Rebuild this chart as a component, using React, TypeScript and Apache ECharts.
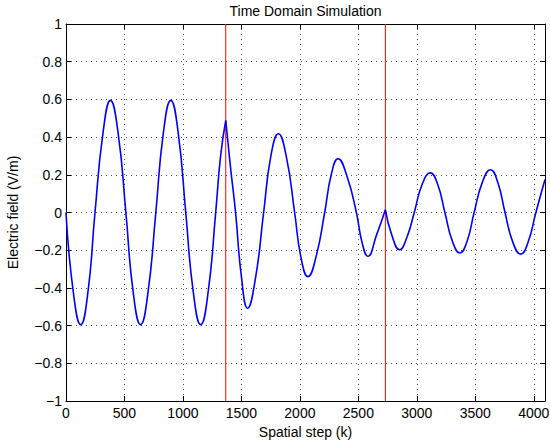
import React, { useEffect, useRef } from "react";
import * as echarts from "echarts";

// Field along the grid: [spatial step, field (V/m)]
const region1: [number, number][] = [
  [0, 0], [62, -0.42], [126, -0.595], [188, -0.42], [248, 0], [316, 0.42], [380, 0.595],
  [446, 0.42], [512, 0], [574, -0.42], [638, -0.595], [702, -0.42], [768, 0], [832, 0.42],
  [896, 0.595], [960, 0.42], [1024, 0], [1088, -0.42], [1152, -0.595], [1216, -0.42],
  [1280, 0], [1322, 0.3], [1366, 0.488],
];
const region2: [number, number][] = [
  [1366, 0.488], [1405, 0.25], [1450, 0], [1500, -0.34], [1553, -0.508], [1620, -0.35],
  [1690, 0], [1752, 0.3], [1816, 0.418], [1886, 0.29], [1955, 0], [2010, -0.24],
  [2069, -0.34], [2140, -0.23], [2212, 0], [2268, 0.2], [2326, 0.285], [2404, 0.19],
  [2483, 0], [2532, -0.16], [2582, -0.233], [2655, -0.12], [2731, 0.015],
];
const region3: [number, number][] = [
  [2731, 0.015], [2786, -0.12], [2853, -0.198], [2916, -0.13], [2978, 0], [3046, 0.15],
  [3116, 0.21], [3178, 0.15], [3240, 0], [3304, -0.152], [3368, -0.215], [3430, -0.152],
  [3490, 0], [3560, 0.16], [3630, 0.227], [3692, 0.16], [3754, 0], [3820, -0.156],
  [3888, -0.221], [3952, -0.156], [4018, 0], [4096, 0.175],
];
const boundaries: number[] = [1366, 2731];
const yRange: [number, number] = [-1, 1];

const titleText = "Time Domain Simulation";
const xName = "Spatial step (k)";
const yName = "Electric field (V/m)";

const FONT = "'Liberation Sans', Arial, Helvetica, sans-serif";

export default function App() {
  const ref = useRef<HTMLDivElement>(null);
  useEffect(() => {
    if (!ref.current) return;
    const chart = echarts.init(ref.current, undefined, { renderer: "svg" });
    const txt = { color: "#000", fontSize: 14, fontFamily: FONT };
    const lineSeries = (d: [number, number][]) => ({
      type: "line",
      data: d,
      smooth: 0.5,
      showSymbol: false,
      symbol: "none",
      lineStyle: { color: "#0000ff", width: 1.6 },
      itemStyle: { color: "#0000ff" },
      xAxisIndex: 0,
      yAxisIndex: 0,
      z: 3,
    });
    const boundarySeries = boundaries.map((b) => ({
      type: "line",
      data: yRange.map((y) => [b, y]),
      showSymbol: false,
      symbol: "none",
      lineStyle: { color: "#ff0000", width: 1 },
      itemStyle: { color: "#ff0000" },
      xAxisIndex: 0,
      yAxisIndex: 0,
      z: 2,
      silent: true,
    }));
    chart.setOption({
      animation: false,
      backgroundColor: "#fff",
      grid: { left: 66, right: 5, top: 24, bottom: 43, containLabel: false, outerBoundsMode: "none" },
      graphic: [
        {
          type: "text",
          x: 305.5,
          y: 11,
          style: { text: titleText, align: "center", verticalAlign: "middle", fill: "#000", font: `14px ${FONT}` },
        },
      ],
      xAxis: [
        {
          type: "value",
          min: 0,
          max: 4096,
          interval: 500,
          position: "bottom",
          name: xName,
          nameLocation: "middle",
          nameGap: 21,
          nameTextStyle: txt,
          axisLine: { show: true, onZero: false, lineStyle: { color: "#000", width: 1 } },
          axisTick: { show: true, inside: true, length: 5, lineStyle: { color: "#000" } },
          axisLabel: {
            ...txt,
            margin: 5,
            formatter: (v: number) => (v % 500 === 0 ? String(v) : ""),
          },
          splitLine: { show: true, lineStyle: { color: "#000", type: [1, 4], width: 1, opacity: 0.7 } },
        },
        {
          type: "value",
          min: 0,
          max: 4096,
          interval: 500,
          position: "top",
          axisLine: { show: true, onZero: false, lineStyle: { color: "#000", width: 1 } },
          axisTick: { show: true, inside: true, length: 5, lineStyle: { color: "#000" } },
          axisLabel: { show: false },
          splitLine: { show: false },
        },
      ],
      yAxis: [
        {
          type: "value",
          min: yRange[0],
          max: yRange[1],
          interval: 0.2,
          position: "left",
          name: yName,
          nameLocation: "middle",
          nameGap: 46,
          nameTextStyle: txt,
          axisLine: { show: true, onZero: false, lineStyle: { color: "#000", width: 1 } },
          axisTick: { show: true, inside: true, length: 5, lineStyle: { color: "#000" } },
          axisLabel: {
            ...txt,
            margin: 4,
            formatter: (v: number) => String(Math.round(v * 10) / 10).replace("-", "\u2212"),
          },
          splitLine: { show: true, lineStyle: { color: "#000", type: [1, 4], width: 1, opacity: 0.7 } },
        },
        {
          type: "value",
          min: yRange[0],
          max: yRange[1],
          interval: 0.2,
          position: "right",
          axisLine: { show: true, onZero: false, lineStyle: { color: "#000", width: 1 } },
          axisTick: { show: true, inside: true, length: 5, lineStyle: { color: "#000" } },
          axisLabel: { show: false },
          splitLine: { show: false },
        },
      ],
      series: [
        ...boundarySeries,
        lineSeries(region1),
        lineSeries(region2),
        lineSeries(region3),
      ],
    });
    return () => chart.dispose();
  }, []);
  return (
    <div
      ref={ref}
      style={{ position: "fixed", left: 0, top: 0, width: 550, height: 444, background: "#fff" }}
    />
  );
}
